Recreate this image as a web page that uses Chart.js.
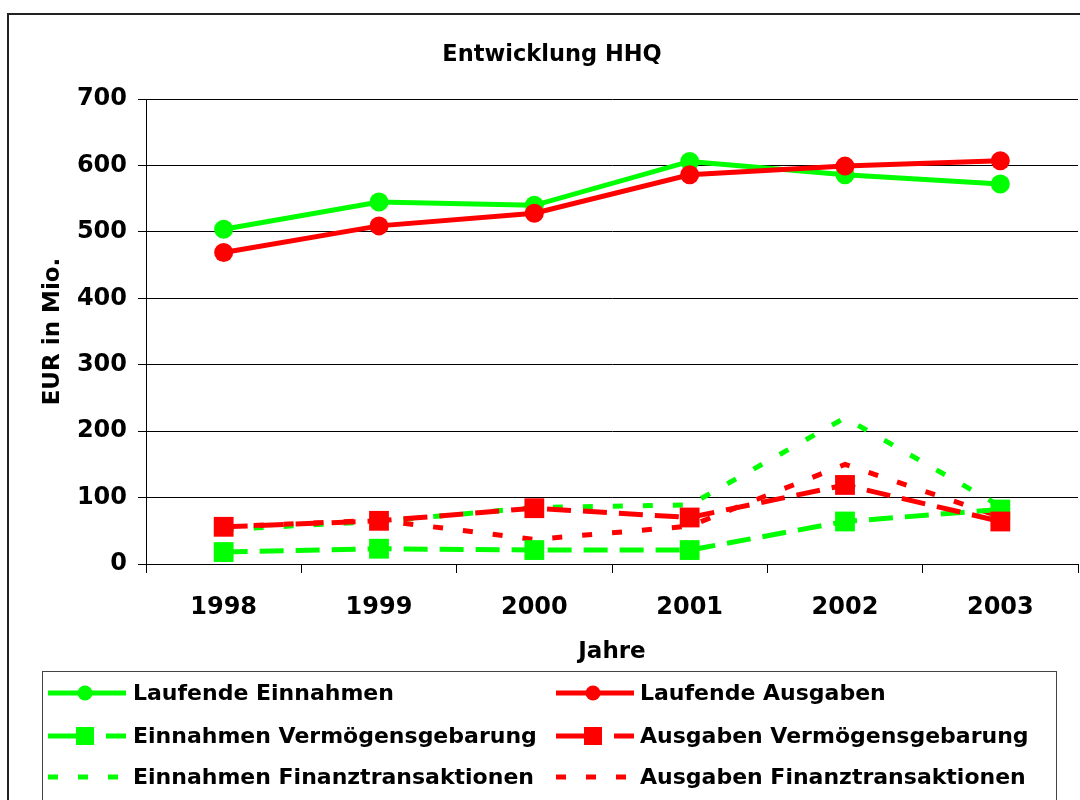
<!DOCTYPE html>
<html>
<head>
<meta charset="utf-8">
<script src="https://cdn.jsdelivr.net/npm/chart.js@4.4.1/dist/chart.umd.min.js"></script>
<style>
  html, body { margin: 0; padding: 0; background: #fff; }
  #wrap { width: 1080px; height: 800px; }
</style>
</head>
<body>
<div id="wrap"><canvas id="hhq" width="1080" height="800"></canvas></div>
<script>
// values (EUR in Mio.)
const years = ['1998', '1999', '2000', '2001', '2002', '2003'];
const laufendeEinnahmen = [504, 545, 540, 606, 586, 572];
const laufendeAusgaben = [469, 509, 528, 586, 599, 607];
const einnahmenVermoegen = [18, 23, 21, 21, 64, 82];
const ausgabenVermoegen = [56, 65, 84, 70, 119, 64];
const einnahmenFinanz = [52, 64, 85, 89, 220, 87];
const ausgabenFinanz = [56, 66, 37, 57, 150, 71];
const yTicks = [0, 100, 200, 300, 400, 500, 600, 700];

const GREEN = '#00ff00';
const RED = '#ff0000';
const FONT = '"DejaVu Sans", Verdana, sans-serif';

// outer chart frame (the original is cropped on the right and bottom)
const frame = {
  id: 'frame',
  beforeDraw(chart) {
    const ctx = chart.ctx;
    ctx.save();
    ctx.strokeStyle = '#222';
    ctx.lineWidth = 2;
    ctx.beginPath();
    ctx.moveTo(8, 800);
    ctx.lineTo(8, 14);
    ctx.lineTo(1080, 14);
    ctx.stroke();
    ctx.restore();
  }
};

// two column legend like the Excel one
const hhqLegend = {
  id: 'hhqLegend',
  afterDraw(chart) {
    const ctx = chart.ctx;
    const rows = [693, 736, 777];
    ctx.save();
    ctx.strokeStyle = '#444';
    ctx.lineWidth = 1;
    ctx.strokeRect(42.5, 671.5, 1014, 150);
    chart.data.datasets.forEach((ds, i) => {
      const col = i % 2;
      const y = rows[Math.floor(i / 2)];
      const x0 = col ? 556 : 48;
      const x1 = x0 + 78;
      ctx.save();
      ctx.strokeStyle = ds.borderColor;
      ctx.lineWidth = ds.borderWidth;
      ctx.setLineDash(ds.legendDash || ds.borderDash || []);
      ctx.beginPath();
      ctx.moveTo(x0, y);
      ctx.lineTo(x1, y);
      ctx.stroke();
      ctx.restore();
      if (ds.pointRadius > 0) {
        ctx.fillStyle = ds.pointBackgroundColor;
        Chart.helpers.drawPoint(ctx, {
          pointStyle: ds.pointStyle,
          radius: ds.legendRadius,
          rotation: 0,
          borderWidth: 0
        }, x0 + 37, y);
      }
      ctx.fillStyle = '#000';
      ctx.font = 'bold 22px ' + FONT;
      ctx.textBaseline = 'middle';
      ctx.textAlign = 'left';
      ctx.fillText(ds.label, col ? 640 : 133, y + 1);
    });
    ctx.restore();
  }
};

function line(label, data, color, style, order) {
  const ds = {
    label: label,
    data: data,
    borderColor: color,
    backgroundColor: color,
    pointBackgroundColor: color,
    pointBorderColor: color,
    pointBorderWidth: 0,
    borderWidth: 5,
    tension: 0,
    order: order,
    pointRadius: 0,
    pointHoverRadius: 0
  };
  if (style === 'circle') {
    ds.pointStyle = 'circle';
    ds.pointRadius = 9.5;
    ds.legendRadius = 7.5;
  } else if (style === 'rect') {
    ds.pointStyle = 'rect';
    ds.pointRadius = 14;
    ds.legendRadius = 12.7;
    ds.borderDash = [24, 12];
    ds.legendDash = [46, 12];
  } else {
    ds.borderDash = [10, 20];
    ds.borderCapStyle = 'butt';
  }
  return ds;
}

new Chart(document.getElementById('hhq'), {
  type: 'line',
  data: {
    labels: years,
    datasets: [
      line('Laufende Einnahmen', laufendeEinnahmen, GREEN, 'circle', 1),
      line('Laufende Ausgaben', laufendeAusgaben, RED, 'circle', 0),
      line('Einnahmen Vermögensgebarung', einnahmenVermoegen, GREEN, 'rect', 3),
      line('Ausgaben Vermögensgebarung', ausgabenVermoegen, RED, 'rect', 2),
      line('Einnahmen Finanztransaktionen', einnahmenFinanz, GREEN, 'dot', 5),
      line('Ausgaben Finanztransaktionen', ausgabenFinanz, RED, 'dot', 4)
    ]
  },
  options: {
    responsive: false,
    animation: false,
    layout: { autoPadding: false, padding: { left: 26, right: 2, top: 0, bottom: 136 } },
    plugins: {
      legend: { display: false },
      tooltip: { enabled: false },
      title: {
        display: true,
        text: 'Entwicklung HHQ',
        color: '#000',
        font: { family: FONT, size: 22.5, weight: 'bold' },
        padding: { top: 42, bottom: 30 }
      }
    },
    scales: {
      x: {
        offset: true,
        grid: {
          display: true,
          drawOnChartArea: false,
          offset: true,
          tickLength: 9,
          color: '#000'
        },
        border: { display: true, color: '#000', width: 1 },
        ticks: {
          color: '#000',
          padding: 20,
          maxRotation: 0,
          font: { family: FONT, size: 24, weight: 'bold' }
        },
        title: {
          display: true,
          text: 'Jahre',
          color: '#000',
          padding: { top: 0, bottom: -2 },
          font: { family: FONT, size: 23, weight: 'bold' }
        },
        afterFit(scale) { scale.height = 100; }
      },
      y: {
        min: 0,
        max: 700,
        afterBuildTicks(scale) {
          scale.ticks = yTicks.map(v => ({ value: v }));
        },
        grid: {
          color: '#000',
          lineWidth: 1,
          tickLength: 8
        },
        border: { display: true, color: '#000', width: 1 },
        ticks: {
          color: '#000',
          padding: 11,
          font: { family: FONT, size: 24, weight: 'bold' }
        },
        title: {
          display: true,
          text: 'EUR in Mio.',
          color: '#000',
          padding: { top: 13, bottom: 0 },
          font: { family: FONT, size: 23, weight: 'bold' }
        },
        afterFit(scale) { scale.width = 120; }
      }
    }
  },
  plugins: [frame, hhqLegend]
});
</script>
</body>
</html>
